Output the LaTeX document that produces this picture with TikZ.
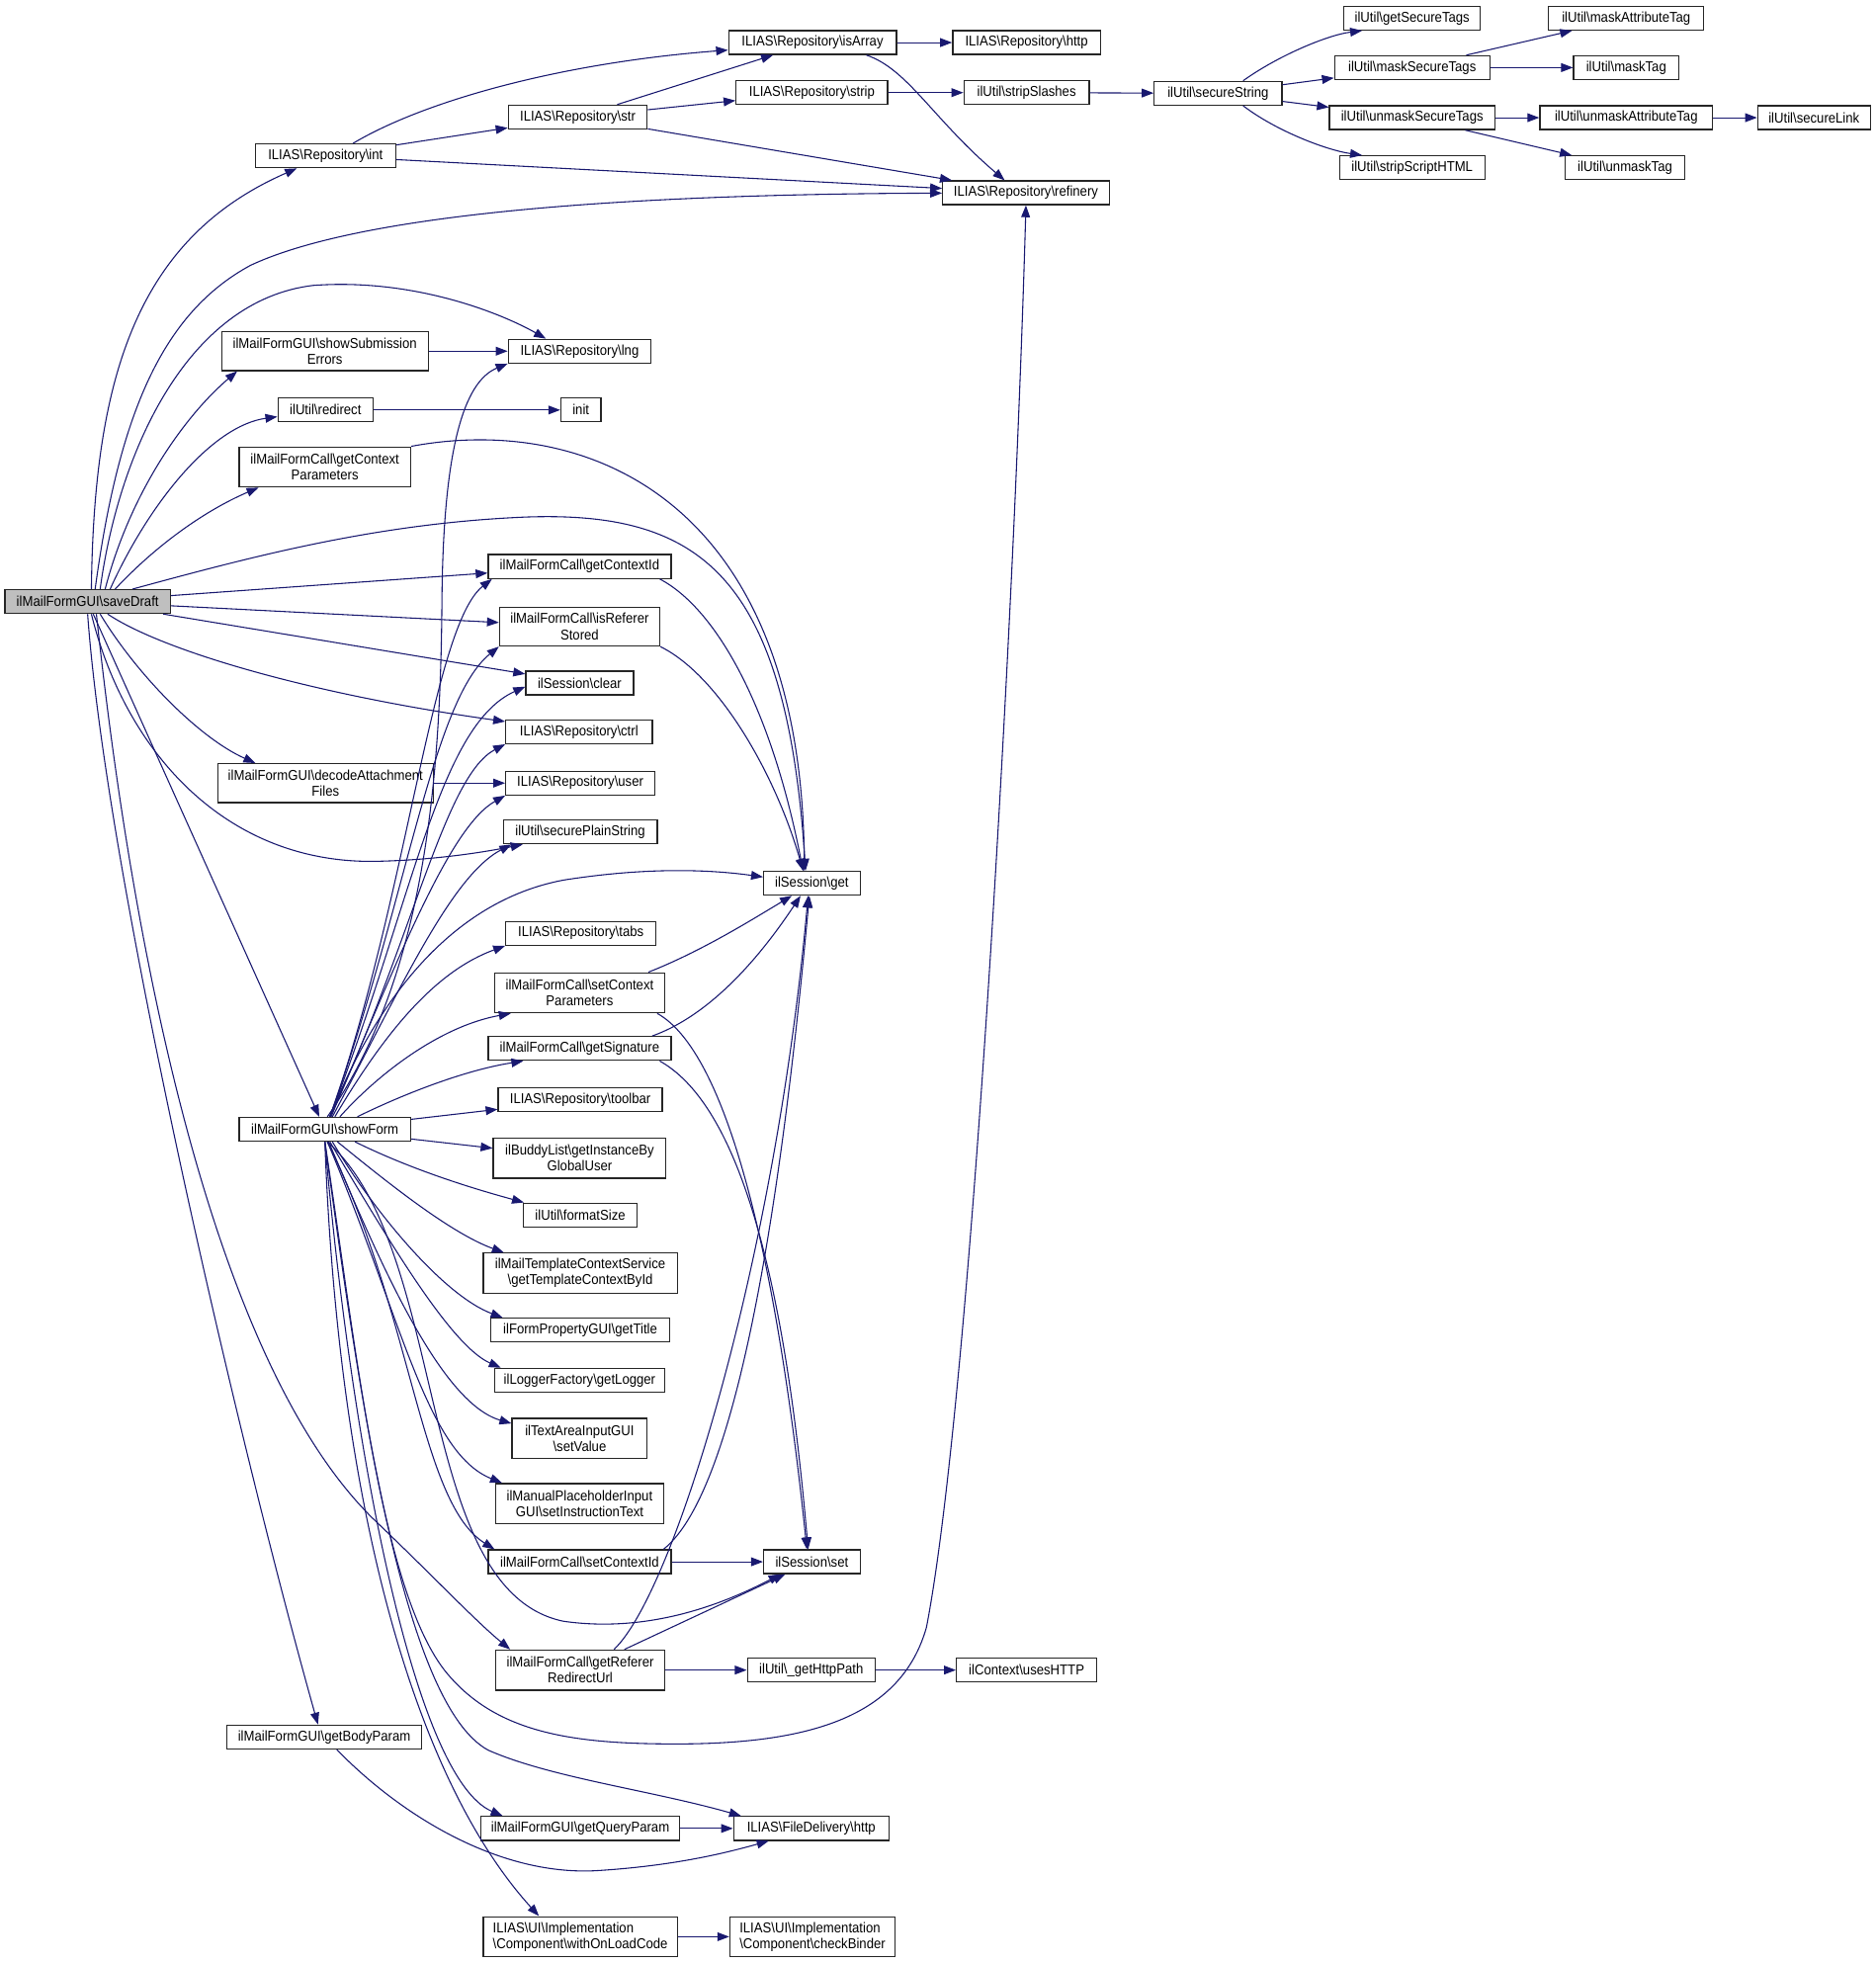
\documentclass[tikz,border=0pt]{standalone}
\usepackage{fontspec}
\setmainfont{Liberation Sans}[FakeStretch=0.91]
\usetikzlibrary{arrows.meta}
\definecolor{edgec}{HTML}{191970}
\definecolor{greyfill}{HTML}{BFBFBF}
\newcommand\bsl{\textbackslash}
\newcommand\mynode[7][]{\node[box,minimum width=#5,minimum height=#6,#1] (#2) at (#3,#4) {#7};}
\begin{document}
\begin{tikzpicture}[x=1pt,y=-1pt,
  box/.style={draw=black!85,line width=1pt,fill=white,inner sep=0pt,align=center,
    font=\fontsize{11.4}{12.8}\selectfont},
  e/.style={draw=edgec,line width=0.85pt,-{Triangle[length=9.5pt,width=7pt]}}]
\fill[white] (0,0) rectangle (1498,1568);
\useasboundingbox (0,0) rectangle (1498,1568);

% ---- nodes ----
\mynode[fill=greyfill]{saveDraft}{70}{480.5}{132}{19}{ilMailFormGUI\bsl saveDraft}
\mynode{int}{260}{124.5}{112}{19}{ILIAS\bsl Repository\bsl int}
\mynode{ssErr}{259.5}{280.5}{165}{31}{ilMailFormGUI\bsl showSubmission\\Errors}
\mynode{redirect}{260}{327.5}{76}{19}{ilUtil\bsl redirect}
\mynode{gcp}{259.5}{373}{137}{32}{ilMailFormCall\bsl getContext\\Parameters}
\mynode{decode}{260}{625.5}{172}{31}{ilMailFormGUI\bsl decodeAttachment\\Files}
\mynode{showForm}{259.5}{902}{137}{19}{ilMailFormGUI\bsl showForm}
\mynode{gbp}{259}{1387.5}{156}{19}{ilMailFormGUI\bsl getBodyParam}

\mynode{str}{461.5}{93.5}{111}{19}{ILIAS\bsl Repository\bsl str}
\mynode{lng}{463}{280.5}{114}{19}{ILIAS\bsl Repository\bsl lng}
\mynode{init}{464}{327.5}{32}{19}{init}
\mynode{gcid}{463}{452.5}{146}{19}{ilMailFormCall\bsl getContextId}
\mynode{irs}{463}{500.5}{128}{31}{ilMailFormCall\bsl isReferer\\Stored}
\mynode{clear}{463}{545.5}{86}{19}{ilSession\bsl clear}
\mynode{ctrl}{462.5}{584.5}{117}{19}{ILIAS\bsl Repository\bsl ctrl}
\mynode{user}{463.5}{625.5}{119}{19}{ILIAS\bsl Repository\bsl user}
\mynode{spstr}{463.5}{664.5}{123}{19}{ilUtil\bsl securePlainString}
\mynode{tabs}{464}{745.5}{120}{19}{ILIAS\bsl Repository\bsl tabs}
\mynode{scp}{463}{793}{136}{32}{ilMailFormCall\bsl setContext\\Parameters}
\mynode{gsig}{463}{837.5}{146}{19}{ilMailFormCall\bsl getSignature}
\mynode{toolbar}{463.5}{878.5}{131}{19}{ILIAS\bsl Repository\bsl toolbar}
\mynode{gib}{463}{925}{138}{32}{ilBuddyList\bsl getInstanceBy\\GlobalUser}
\mynode{fsize}{463.5}{970.5}{91}{19}{ilUtil\bsl formatSize}
\mynode{gtc}{463.5}{1017}{155}{32}{ilMailTemplateContextService\\\bsl getTemplateContextById}
\mynode{gtitle}{463.5}{1062.5}{143}{19}{ilFormPropertyGUI\bsl getTitle}
\mynode{glog}{463}{1102.5}{136}{19}{ilLoggerFactory\bsl getLogger}
\mynode{setval}{463}{1149}{108}{32}{ilTextAreaInputGUI\\\bsl setValue}
\mynode{sit}{463}{1201}{134}{32}{ilManualPlaceholderInput\\GUI\bsl setInstructionText}
\mynode{scid}{463}{1247.5}{146}{19}{ilMailFormCall\bsl setContextId}
\mynode{grru}{463.5}{1334}{135}{32}{ilMailFormCall\bsl getReferer\\RedirectUrl}
\mynode{gqp}{463.5}{1460.5}{159}{19}{ilMailFormGUI\bsl getQueryParam}
\mynode[align=left]{wolc}{463.5}{1547}{155}{32}{ILIAS\bsl UI\bsl Implementation\\\bsl Component\bsl withOnLoadCode}

\mynode{isArray}{649}{34}{134}{19}{ILIAS\bsl Repository\bsl isArray}
\mynode{strip}{648.5}{74}{121}{19}{ILIAS\bsl Repository\bsl strip}
\mynode{get}{648.5}{705.5}{77}{19}{ilSession\bsl get}
\mynode{set}{648.5}{1247.5}{77}{19}{ilSession\bsl set}
\mynode{ghp}{648}{1334}{102}{19}{ilUtil\bsl \_getHttpPath}
\mynode{fdhttp}{648}{1460.5}{124}{19}{ILIAS\bsl FileDelivery\bsl http}
\mynode[align=left]{chk}{649}{1547}{132}{32}{ILIAS\bsl UI\bsl Implementation\\\bsl Component\bsl checkBinder}

\mynode{http}{820}{34}{118}{19}{ILIAS\bsl Repository\bsl http}
\mynode{sslash}{820}{74}{100}{19}{ilUtil\bsl stripSlashes}
\mynode{refinery}{819.5}{154}{133}{19}{ILIAS\bsl Repository\bsl refinery}
\mynode{uses}{820}{1334}{112}{19}{ilContext\bsl usesHTTP}

\mynode{sstr}{973}{74.5}{102}{19}{ilUtil\bsl secureString}
\mynode{gst}{1128}{14.5}{109}{19}{ilUtil\bsl getSecureTags}
\mynode{mst}{1128}{54}{124}{19}{ilUtil\bsl maskSecureTags}
\mynode{ust}{1128}{94}{132}{19}{ilUtil\bsl unmaskSecureTags}
\mynode{ssh}{1128}{134}{116}{19}{ilUtil\bsl stripScriptHTML}
\mynode{mat}{1299}{14.5}{124}{19}{ilUtil\bsl maskAttributeTag}
\mynode{mtag}{1299}{54}{84}{19}{ilUtil\bsl maskTag}
\mynode{uat}{1299}{94}{138}{19}{ilUtil\bsl unmaskAttributeTag}
\mynode{utag}{1298}{134}{96}{19}{ilUtil\bsl unmaskTag}
\mynode{slink}{1449}{94}{90}{19}{ilUtil\bsl secureLink}

% ---- saveDraft edges ----
\draw[e] ([xshift=3]saveDraft.north) .. controls (75,300) and (110,190) .. (int);
\draw[e] ([xshift=6]saveDraft.north) .. controls (95,330) and (130,250) .. (200,212) .. controls (300,165) and (550,155) .. (refinery);
\draw[e] ([xshift=10]saveDraft.north) .. controls (95,360) and (150,240) .. (250,228) .. controls (330,222) and (400,250) .. ([xshift=-27]lng.north);
\draw[e] ([xshift=14]saveDraft.north) .. controls (105,390) and (150,330) .. ([xshift=-70]ssErr.south);
\draw[e] ([xshift=18]saveDraft.north) .. controls (120,400) and (170,340) .. (redirect);
\draw[e] ([xshift=22]saveDraft.north) .. controls (130,430) and (170,405) .. ([xshift=-53]gcp.south);
\draw[e] ([xshift=36]saveDraft.north) .. controls (200,445) and (300,418) .. (420,413) .. controls (560,408) and (628,460) .. ([xshift=-5]get.north);
\draw[e] (saveDraft) -- (gcid);
\draw[e] (saveDraft) -- (irs);
\draw[e] (saveDraft) -- (clear);
\draw[e] ([xshift=16]saveDraft.south) .. controls (130,520) and (250,555) .. (ctrl);
\draw[e] ([xshift=10]saveDraft.south) .. controls (110,540) and (160,590) .. ([xshift=-56]decode.north);
\draw[e] ([xshift=3]saveDraft.south) .. controls (100,600) and (180,690) .. (300,688) .. controls (350,687) and (390,680) .. ([xshift=-46]spstr.south);
\draw[e] (saveDraft) -- (showForm);
\draw[e] ([xshift=7]saveDraft.south) .. controls (110,800) and (180,1100) .. (300,1215) .. controls (345,1258) and (380,1295) .. ([xshift=-56]grru.north);
\draw[e] (saveDraft.south) .. controls (85,700) and (190,1150) .. ([xshift=-5]gbp.north);

% ---- upper right ----
\draw[e] ([xshift=22]int.north) .. controls (340,80) and (450,50) .. ([yshift=-6]isArray.west);
\draw[e] (int) -- (str);
\draw[e] (int) -- (refinery);
\draw[e] (str) -- (isArray);
\draw[e] (str) -- (strip);
\draw[e] (str) -- (refinery);
\draw[e] (isArray) -- (http);
\draw[e] ([xshift=43]isArray.south) .. controls (725,55) and (745,95) .. ([xshift=-17]refinery.north);
\draw[e] (strip) -- (sslash);
\draw[e] (sslash) -- (sstr);
\draw[e] ([xshift=20]sstr.north) .. controls (1020,45) and (1060,28) .. ([xshift=-40]gst.south);
\draw[e] (sstr) -- (mst);
\draw[e] (sstr) -- (ust);
\draw[e] ([xshift=20]sstr.south) .. controls (1020,105) and (1060,120) .. ([xshift=-40]ssh.north);
\draw[e] (mst) -- (mat);
\draw[e] (mst) -- (mtag);
\draw[e] (ust) -- (uat);
\draw[e] (ust) -- (utag);
\draw[e] (uat) -- (slink);

\draw[e] (ssErr) -- (lng);
\draw[e] (redirect) -- (init);
\draw[e] (decode) -- (user);

% ---- into ilSession\get ----
\draw[e] (gcp.north east) .. controls (470,330) and (640,400) .. ([xshift=-6]get.north);
\draw[e] ([xshift=64]gcid.south) .. controls (570,485) and (615,560) .. ([xshift=-7]get.north);
\draw[e] (irs.south east) .. controls (575,540) and (620,620) .. ([xshift=-7]get.north);
\draw[e] ([xshift=55]scp.north) .. controls (560,760) and (600,735) .. ([xshift=-16]get.south);
\draw[e] ([xshift=58]gsig.north) .. controls (570,810) and (610,760) .. ([xshift=-9]get.south);
\draw[e] ([xshift=67]scid.north) .. controls (590,1190) and (625,950) .. ([xshift=-2]get.south);
\draw[e] ([xshift=27]grru.north) .. controls (540,1270) and (620,1000) .. ([xshift=-3]get.south);

% ---- into ilSession\set etc ----
\draw[e] ([xshift=62]scp.south) .. controls (580,840) and (620,1000) .. ([xshift=-4]set.north);
\draw[e] ([xshift=64]gsig.south) .. controls (585,880) and (625,1000) .. ([xshift=-3]set.north);
\draw[e] (scid) -- (set);
\draw[e] (grru) -- (set);
\draw[e] (grru) -- (ghp);
\draw[e] (ghp) -- (uses);
\draw[e] (gqp) -- (fdhttp);
\draw[e] (wolc) -- (chk);
\draw[e] ([xshift=10]gbp.south) .. controls (320,1450) and (400,1500) .. (480,1494) .. controls (540,1490) and (580,1480) .. ([xshift=-34]fdhttp.south);

% ---- showForm upward ----
\draw[e] ([xshift=2]showForm.north) .. controls (340,780) and (352,620) .. (353,480) .. controls (354,360) and (370,305) .. (lng.south west);
\draw[e] ([xshift=4]showForm.north) .. controls (300,800) and (360,720) .. (450,703) .. controls (520,692) and (570,695) .. ([yshift=5]get.west);
\draw[e] ([xshift=4]showForm.north) .. controls (325,720) and (345,500) .. ([xshift=-70]gcid.south);
\draw[e] ([xshift=4]showForm.north) .. controls (325,720) and (345,560) .. (irs.south west);
\draw[e] ([xshift=4]showForm.north) .. controls (330,720) and (350,580) .. ([yshift=-3]clear.west);
\draw[e] ([xshift=4]showForm.north) .. controls (330,750) and (355,620) .. (ctrl.south west);
\draw[e] ([xshift=5]showForm.north) .. controls (320,760) and (360,660) .. (user.south west);
\draw[e] ([xshift=6]showForm.north) .. controls (320,790) and (360,700) .. ([xshift=-55]spstr.south);
\draw[e] ([xshift=8]showForm.north) .. controls (310,820) and (350,775) .. (tabs.south west);
\draw[e] ([xshift=12]showForm.north) .. controls (300,860) and (350,820) .. ([xshift=-55]scp.south);
\draw[e] ([xshift=26]showForm.north) .. controls (320,875) and (370,855) .. ([xshift=-45]gsig.south);
\draw[e] (showForm) -- (toolbar);
\draw[e] (showForm) -- (gib);

% ---- showForm downward ----
\draw[e] ([xshift=24]showForm.south) .. controls (330,935) and (380,950) .. ([xshift=-45]fsize.north);
\draw[e] ([xshift=10]showForm.south) .. controls (310,945) and (360,985) .. ([xshift=-61]gtc.north);
\draw[e] ([xshift=6]showForm.south) .. controls (300,970) and (355,1035) .. ([xshift=-62]gtitle.north);
\draw[e] ([xshift=4]showForm.south) .. controls (310,990) and (360,1075) .. ([xshift=-63]glog.north);
\draw[e] ([xshift=3]showForm.south) .. controls (300,1000) and (350,1120) .. ([yshift=12]setval.west);
\draw[e] ([xshift=2]showForm.south) .. controls (320,1050) and (340,1160) .. ([xshift=-62]sit.north);
\draw[e] ([xshift=2]showForm.south) .. controls (330,1050) and (335,1200) .. ([xshift=-68]scid.north);
\draw[e] ([xshift=2]showForm.south) .. controls (360,1000) and (330,1270) .. (450,1295) .. controls (520,1305) and (580,1280) .. ([xshift=-25]set.south);
\draw[e] (showForm.south) .. controls (285,1080) and (305,1280) .. (360,1340) .. controls (400,1385) and (460,1393) .. (540,1393) .. controls (650,1393) and (720,1370) .. (740,1300) .. controls (775,1120) and (810,500) .. (refinery.south);
\draw[e] (showForm.south) .. controls (285,1100) and (320,1360) .. (390,1398) .. controls (440,1420) and (520,1430) .. ([xshift=-56]fdhttp.north);
\draw[e] (showForm.south) .. controls (280,1150) and (330,1420) .. ([xshift=-62]gqp.north);
\draw[e] (showForm.south) .. controls (270,1200) and (330,1420) .. ([xshift=-33]wolc.north);
\end{tikzpicture}
\end{document}
